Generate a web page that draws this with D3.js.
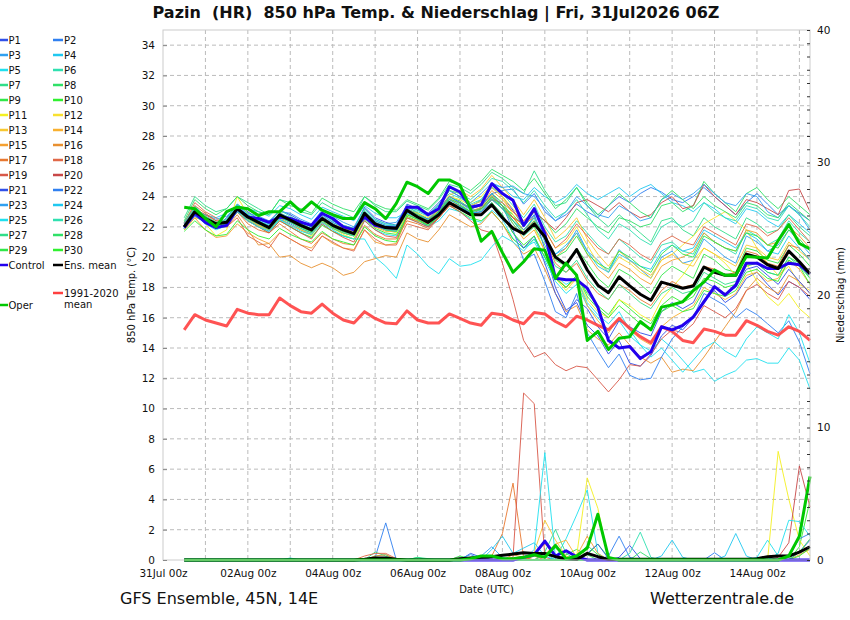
<!DOCTYPE html>
<html>
<head>
<meta charset="utf-8">
<script src="https://cdn.jsdelivr.net/npm/d3@7"></script>
<style>
  body { margin: 0; background: #fff; }
  svg text { font-family: "DejaVu Sans", sans-serif; fill: #111; }
</style>
</head>
<body>
<svg id="chart" width="850" height="620"></svg>
<script>
/// TIME AXIS (hours after 31Jul 00z) ///
const hours = [12,18,24,30,36,42,48,54,60,66, 72,78,84,90,96,102,108,114,120,126,
  132,138,144,150,156,162,168,174,180,186, 192,198,204,210,216,222,228,234,240,246,
  252,258,264,270,276,282,288,294,300,306, 312,318,324,330,336,342,348,354,360,366];
const dateTickHours = [0, 48, 96, 144, 192, 240, 288, 336];
const dateTickLabels = ["31Jul 00z", "02Aug 00z", "04Aug 00z", "06Aug 00z", "08Aug 00z", "10Aug 00z", "12Aug 00z", "14Aug 00z"];
const gridHours = [24,48,72,96,120,144,168,192,216,240,264,288,312,336,360];
const tempTicks = [0,2,4,6,8,10,12,14,16,18,20,22,24,26,28,30,32,34];
const precTicks = [0,1,2,3,4,5,6,7,8,9,10,11,12,13,14,15,16,17,18,19,20,21,22,23,24,25,26,27,28,29,30,31,32,33,34,35,36,37,38,39,40];

/// 850 hPa TEMPERATURE (°C) ///
const tOper = [23.3,23.2,22.55,22.0,23.0,23.3,23.2,22.75,23.0,23.0, 23.65,23.0,23.65,23.1,22.8,22.55,22.55,23.6,23.2,22.55,
  23.55,24.95,24.65,24.2,25.1,25.1,24.75,23.2,21.05,21.7, 20.3,19.0,19.7,20.55,20.45,18.6,19.6,18.8,14.5,15.1,
  13.9,14.65,14.75,15.75,15.2,16.7,16.85,17.05,17.8,18.35, 19.15,18.8,18.8,20.05,20.0,19.95,21.1,22.15,20.9,20.55];
const tControl = [21.95,22.9,22.3,21.95,22.1,23.2,22.65,22.55,22.3,22.65, 22.55,22.3,22.1,22.9,22.55,22.0,21.8,22.65,22.1,21.95,
  21.9,23.3,23.3,22.8,23.2,24.65,24.3,23.3,23.45,24.85, 24.2,23.75,22.1,23.2,21.55,18.6,18.5,18.5,17.95,16.7,
  14.5,14.0,14.1,13.3,13.75,15.4,15.2,15.5,16.05,17.05, 18.05,17.5,18.15,19.6,19.6,19.25,19.25,19.6,19.5,18.9];
const tMean = [22.0,23.0,22.55,22.2,22.3,23.2,22.65,22.3,21.95,22.8, 22.45,22.1,21.8,22.55,22.1,21.8,21.55,22.9,22.2,21.95,
  21.9,23.1,22.65,22.3,22.8,23.6,23.2,22.8,22.8,23.45, 22.6,21.9,21.55,22.2,21.35,20.0,19.5,20.5,19.15,18.15,
  17.65,18.7,18.1,17.55,17.15,18.35,18.15,17.95,18.1,19.35, 19.0,18.8,18.8,20.2,20.0,19.5,19.25,20.4,19.7,18.9];
const tClim = [15.2,16.2,15.85,15.65,15.45,16.55,16.3,16.2,16.2,17.3, 16.8,16.4,16.3,16.9,16.3,15.85,15.65,16.4,15.95,15.65,
  15.6,16.45,15.85,15.65,15.65,16.25,15.95,15.65,15.5,16.3, 16.2,15.85,15.6,16.35,16.25,15.75,15.4,16.1,15.85,15.5,
  15.2,15.95,15.3,14.75,14.35,15.4,15.1,14.5,14.35,15.25, 15.1,14.85,14.85,15.8,15.5,15.1,14.85,15.4,15.1,14.5];

const t01 = [22.1,23.3,22.4,22.0,22.6,23.5,23.0,22.5,22.3,23.1, 22.8,22.4,22.0,23.0,22.4,22.1,21.9,23.3,22.6,22.3, 22.1,23.5,23.2,22.9,23.6,24.4,24.0,23.4,23.7,24.6, 24.0,23.1,22.0,22.8,20.5,18.0,16.5,17.0,15.5,14.8, 13.6,14.5,13.0,12.8,13.5,14.8,15.5,15.2,16.0,17.2, 17.8,17.0,17.5,18.6,19.0,18.2,17.5,18.4,18.0,17.2];
const t02 = [21.9,22.8,22.2,21.9,22.0,23.0,22.4,22.1,21.7,22.5, 22.2,21.8,21.5,22.3,21.9,21.6,21.4,22.6,22.0,21.8, 21.7,22.9,22.5,22.0,22.6,23.5,23.3,22.9,23.3,24.2, 24.4,24.5,23.5,24.2,23.0,22.4,22.8,23.5,23.0,22.6, 23.4,24.0,23.6,24.2,24.6,24.3,23.8,23.6,24.0,24.6, 24.0,23.4,22.8,23.6,24.2,23.5,22.8,23.4,22.9,22.4];
const t03 = [22.2,23.1,22.8,22.5,22.7,23.4,22.9,22.7,22.4,23.0, 22.9,22.5,22.2,23.1,22.7,22.3,22.0,23.2,22.5,22.2, 22.3,23.4,22.9,22.5,23.0,24.0,23.6,23.1,23.2,24.0, 23.2,22.4,21.5,22.8,21.0,20.2,20.6,21.8,20.4,19.8, 19.0,20.5,19.8,19.2,18.6,20.0,20.4,19.6,19.8,21.2, 20.6,20.0,19.6,21.4,21.0,20.4,20.8,21.8,21.0,20.2];
const t04 = [22.0,23.0,22.8,22.6,22.9,23.4,23.2,23.0,22.7,23.4, 23.2,22.8,22.5,23.3,23.0,22.7,22.4,23.4,22.9,22.6, 22.6,23.0,22.7,22.2,23.0,23.8,23.6,23.3,23.8,24.8, 24.6,24.0,23.8,24.6,24.0,23.6,24.0,24.8,24.2,23.8, 24.2,24.6,24.0,24.5,24.8,24.2,23.6,23.4,23.0,23.6, 23.2,22.6,22.2,23.2,23.0,22.4,22.0,22.8,22.2,21.6];
const t05 = [22.3,23.4,22.6,22.1,22.4,23.3,22.6,22.1,21.8,22.5, 22.0,21.6,21.3,22.2,21.7,21.4,21.2,22.4,21.8,21.5, 21.4,22.6,22.3,22.0,22.4,23.2,23.0,22.5,22.3,23.1, 22.5,21.2,20.6,21.0,19.8,18.4,17.6,18.2,16.8,16.0, 15.2,15.8,14.8,14.2,13.8,14.6,14.0,13.2,12.4,12.6, 11.8,12.2,12.5,13.2,13.3,13.0,13.0,14.0,13.2,11.3];
const t06 = [22.0,22.9,22.7,22.3,22.2,23.1,22.8,22.4,22.1,22.9, 22.6,22.2,21.9,22.8,22.3,21.9,21.7,23.1,22.4,22.1, 22.0,23.3,23.0,22.7,23.4,24.2,23.9,23.5,23.8,24.6, 24.2,23.4,22.6,23.5,22.0,21.0,21.4,22.4,21.6,20.8, 20.2,21.2,20.6,20.0,19.6,20.8,21.0,20.4,20.2,21.6, 21.0,20.6,20.2,21.8,21.4,20.8,21.2,22.4,21.6,21.0];
const t07 = [22.6,24.0,23.4,23.0,23.2,24.0,23.6,23.2,22.8,23.8, 23.6,23.0,22.8,23.6,23.2,22.9,22.6,24.0,23.4,23.0, 23.0,23.7,23.4,23.1,23.8,24.8,24.6,24.2,24.8,25.6, 25.2,24.6,24.2,25.7,24.4,23.4,23.6,24.6,23.4,22.6, 22.0,22.8,22.2,21.6,21.0,22.4,22.6,21.8,21.4,22.6, 22.0,21.6,21.2,22.6,22.2,21.6,21.8,22.8,22.0,21.4];
const t08 = [21.9,22.8,22.5,22.1,22.3,23.1,22.6,22.2,21.9,22.7, 22.4,22.0,21.7,22.5,22.0,21.7,21.5,22.8,22.2,21.9, 21.8,23.0,22.6,22.3,22.9,23.6,23.3,22.8,23.0,23.8, 23.4,22.8,22.0,23.0,22.4,21.6,22.2,23.2,22.6,22.0, 21.6,22.6,22.4,22.0,22.2,23.4,23.6,23.0,23.4,25.0, 24.2,23.6,23.0,24.2,24.6,23.8,23.2,24.0,23.4,22.8];
const t09 = [22.1,23.1,22.6,22.2,22.4,23.3,22.7,22.4,22.0,22.8, 22.4,22.0,21.7,22.6,22.1,21.8,21.6,23.0,22.3,22.0, 21.9,23.2,22.9,22.5,23.1,24.0,23.7,23.2,23.4,24.2, 23.6,22.6,21.8,22.6,21.2,19.8,19.4,20.6,19.6,18.6, 18.0,19.2,18.8,18.2,17.6,18.8,19.4,19.0,18.6,20.2, 19.8,19.2,19.0,20.6,20.4,19.8,19.6,20.8,20.2,19.4];
const t10 = [22.2,22.9,22.3,21.9,22.1,23.0,22.4,22.0,21.6,22.4, 22.0,21.6,21.3,22.1,21.7,21.4,21.2,22.5,21.9,21.6, 21.5,22.7,22.4,22.1,22.6,23.4,23.0,22.6,22.4,23.0, 22.2,21.2,20.6,21.2,20.0,18.6,18.0,18.8,17.6,16.8, 16.2,17.2,16.6,16.0,15.6,16.8,17.4,17.0,17.4,18.6, 18.4,18.0,18.2,19.4,19.6,19.0,18.8,20.0,19.6,18.6];
const t11 = [22.0,23.3,22.2,21.4,21.8,24.0,22.8,22.2,21.8,23.0, 22.4,21.8,21.4,22.4,21.9,21.5,21.2,22.6,22.0,21.8, 21.6,22.8,22.6,22.4,23.2,24.4,24.2,23.6,24.0,24.8, 24.0,22.8,21.6,22.0,20.4,18.6,17.8,18.6,17.2,16.4, 16.0,17.2,16.8,16.2,15.8,17.2,18.0,18.8,19.8,20.6, 20.2,19.6,18.8,19.6,18.4,17.4,16.8,17.6,16.6,16.0];
const t12 = [21.8,22.6,22.4,22.0,22.1,23.0,22.5,22.1,21.8,22.6, 22.3,21.9,21.6,22.4,21.9,21.6,21.4,22.7,22.0,21.8, 21.8,23.1,22.9,22.6,23.2,24.0,23.8,23.4,23.7,24.6, 24.0,23.2,22.4,23.0,21.8,20.6,21.0,22.0,20.8,19.6, 19.0,20.0,19.6,19.0,18.6,19.8,20.2,20.8,21.4,22.2, 22.6,23.0,22.4,21.8,20.6,19.6,18.8,19.4,18.2,17.8];
const t13 = [22.1,23.0,22.7,22.3,22.4,23.2,22.7,22.3,21.9,22.8, 22.6,22.1,21.8,22.7,22.2,21.9,21.7,23.0,22.3,22.0, 21.9,23.2,22.8,22.4,23.1,24.1,24.4,24.0,24.5,25.4, 24.6,23.8,22.8,23.8,22.6,21.2,21.8,22.6,21.2,20.2, 19.4,20.4,19.8,19.2,18.8,19.8,20.2,19.6,19.4,20.6, 20.2,19.8,19.4,20.8,20.6,20.0,19.8,21.0,20.4,19.8];
const t14 = [22.2,23.2,22.5,22.1,22.2,23.1,22.6,22.1,21.8,22.6, 22.1,21.8,21.5,22.3,21.9,21.6,21.4,22.6,22.0,21.7, 21.7,22.8,22.5,22.2,22.8,23.6,23.4,23.0,23.3,24.1, 23.4,22.2,21.2,21.8,20.4,18.8,18.0,18.6,16.8,15.8, 15.0,16.0,15.2,14.6,14.2,15.4,16.0,16.4,16.8,18.0, 17.6,17.2,17.6,18.8,19.0,18.4,18.6,19.8,19.2,18.2];
const t15 = [21.8,22.6,21.8,21.3,21.4,22.2,21.6,21.2,20.9,21.6, 21.2,20.8,20.6,21.4,20.9,20.6,20.5,21.8,21.0,20.8, 20.9,22.6,22.4,22.2,22.9,23.8,23.6,23.2,23.4,24.4, 23.8,23.0,22.2,22.6,21.4,20.0,20.6,21.6,20.2,19.2, 18.6,19.6,19.2,18.6,18.2,19.4,19.8,20.0,20.4,21.6, 21.0,20.6,20.4,21.8,21.6,20.8,21.0,22.0,21.4,20.6];
const t16 = [22.0,22.8,22.4,22.0,22.0,22.8,21.8,20.8,20.9,20.0, 20.1,19.6,19.3,19.6,19.3,18.8,19.0,19.7,19.9,20.1, 20.0,21.6,21.2,21.0,21.8,22.8,22.4,22.0,22.2,23.0, 22.2,21.0,20.2,20.6,19.2,17.6,16.4,16.8,15.2,14.6, 14.2,15.0,14.2,13.4,13.0,13.4,12.4,12.6,12.5,13.4, 14.4,15.4,16.4,17.8,18.6,18.0,17.6,18.8,18.4,17.6];
const t17 = [22.3,23.4,22.9,22.4,22.4,23.0,22.2,21.8,21.6,22.2, 21.7,21.2,20.9,21.6,21.2,20.9,20.8,22.1,21.5,21.2, 21.2,22.4,22.2,21.9,22.6,23.6,23.4,23.0,23.2,24.0, 23.4,22.6,21.8,22.4,21.2,19.6,19.0,19.6,18.4,17.6, 17.2,18.2,17.8,17.2,16.8,17.8,18.4,18.0,18.2,19.4, 19.2,18.8,19.0,20.4,20.2,19.6,19.4,20.8,20.6,19.8];
const t18 = [22.2,23.6,23.0,22.6,22.0,22.6,21.4,21.0,20.6,21.6, 21.2,20.8,20.4,21.4,21.0,20.6,20.4,21.8,21.2,20.8, 20.8,22.2,22.0,21.8,22.6,23.4,23.2,22.8,23.0,23.8, 23.6,23.0,22.4,23.0,21.8,20.6,21.2,22.2,21.4,20.6, 20.2,21.2,20.8,20.2,19.8,21.0,21.4,21.0,20.8,22.0, 21.6,21.2,20.8,22.2,22.0,21.4,21.8,22.6,21.8,21.0];
const t19 = [22.1,23.2,22.8,22.4,22.2,23.0,22.4,22.0,21.6,22.4, 22.0,21.6,21.2,22.2,21.7,21.3,21.0,22.4,21.8,21.4, 21.3,22.6,22.3,22.0,22.6,23.4,23.0,22.4,21.8,21.6, 19.6,17.2,14.5,13.4,13.7,12.9,12.5,12.8,12.7,11.9, 11.1,11.9,12.9,12.8,13.6,14.6,15.2,15.0,15.6,16.8, 16.4,16.0,16.6,17.8,18.2,17.6,17.2,18.4,18.0,17.4];
const t20 = [22.0,22.9,22.5,22.1,22.3,23.2,22.6,22.3,22.0,22.7, 22.3,22.0,21.7,22.5,22.0,21.7,21.5,22.8,22.1,21.8, 21.8,23.0,22.6,22.2,22.8,23.5,23.2,22.8,23.2,23.8, 23.2,22.6,22.2,23.0,22.4,21.8,22.6,23.6,23.8,23.4, 23.0,23.6,23.0,22.6,22.8,23.6,24.0,23.2,23.4,24.8, 24.0,23.4,22.8,23.8,23.6,23.2,22.8,24.4,24.5,23.0];
const t21 = [21.9,22.7,22.3,21.9,22.2,23.1,22.6,22.2,22.0,22.8, 22.5,22.1,21.8,22.6,22.1,21.8,21.6,22.9,22.2,21.9, 21.9,23.1,22.7,22.4,23.0,23.8,23.4,22.9,23.0,23.6, 22.8,21.6,20.6,21.4,19.6,17.6,16.2,17.2,16.6,15.4, 14.6,15.8,15.4,15.0,14.8,16.4,17.0,16.6,17.0,18.4, 18.0,17.6,18.0,19.2,19.4,18.8,18.2,19.2,18.4,17.6];
const t22 = [22.2,23.1,22.5,22.0,22.3,23.3,22.8,22.3,22.0,22.9, 22.5,22.1,21.8,22.7,22.2,21.8,21.6,22.9,22.3,22.0, 22.0,23.2,22.8,22.5,23.2,24.0,23.6,23.2,23.4,24.2, 23.4,21.8,19.8,20.2,18.4,16.4,16.0,17.6,15.0,13.8, 12.7,13.6,12.2,11.9,12.0,13.4,14.6,15.4,16.0,17.6, 17.2,16.8,16.0,16.6,16.2,15.6,15.0,15.8,14.4,12.3];
const t23 = [22.0,22.9,22.6,22.2,22.4,23.0,22.7,22.5,22.2,22.9, 22.6,22.3,22.0,22.8,22.3,22.0,21.8,23.0,22.4,22.1, 22.1,23.4,23.1,22.8,23.4,24.4,24.0,23.6,24.2,24.9, 24.6,24.7,24.2,24.0,23.2,22.4,23.0,24.0,23.4,22.8, 22.6,23.4,23.0,22.4,22.6,23.8,24.2,23.8,24.2,24.8, 24.2,23.6,23.4,24.2,24.0,23.0,22.6,23.4,22.8,21.8];
const t24 = [22.1,23.2,22.4,22.0,22.5,23.4,22.8,22.4,22.1,22.7, 22.3,21.9,21.6,22.5,22.0,21.7,21.4,22.7,22.1,21.8, 21.7,22.9,22.5,22.1,22.7,23.6,23.3,22.9,23.0,23.8, 23.2,22.4,21.8,22.6,21.4,20.2,20.8,21.6,20.4,19.4, 19.0,20.2,19.8,19.4,19.2,20.4,20.8,20.4,20.6,21.8, 21.4,21.0,20.6,21.6,21.2,20.4,20.2,21.4,20.6,19.8];
const t25 = [21.9,22.8,22.2,21.8,22.1,23.0,22.4,22.0,21.7,22.5, 22.1,21.7,21.5,22.3,21.8,21.4,21.2,21.2,20.0,19.4, 18.6,20.8,20.2,19.4,18.9,19.9,19.4,19.5,19.8,20.7, 21.4,21.0,20.4,21.2,20.0,18.8,18.2,18.6,17.0,16.2, 15.6,16.4,15.2,14.2,13.4,14.0,13.2,12.4,13.2,14.0, 14.4,13.8,13.4,14.6,15.4,15.0,14.6,16.2,15.0,13.0];
const t26 = [22.3,23.3,22.7,22.3,22.5,23.5,22.9,22.5,22.2,23.1, 22.7,22.3,22.0,22.9,22.4,22.1,21.9,23.2,22.5,22.2, 22.1,23.4,23.1,22.8,23.5,24.4,24.2,23.8,24.4,25.2, 25.0,24.4,23.6,24.4,23.4,22.6,23.0,23.8,22.8,21.8, 21.2,22.2,21.8,21.2,20.8,22.0,22.4,22.0,22.4,23.6, 23.0,22.6,22.4,23.4,23.2,22.6,22.4,23.4,22.8,22.0];
const t27 = [22.0,22.9,22.4,22.0,22.2,23.1,22.5,22.2,21.8,22.6, 22.3,21.9,21.6,22.4,21.9,21.6,21.4,22.7,22.1,21.8, 21.7,23.0,22.7,22.3,22.9,23.8,23.4,23.0,23.1,23.9, 23.2,22.2,21.4,22.0,20.8,19.4,19.0,19.8,18.6,17.8, 17.2,18.2,17.6,17.0,16.6,17.6,18.0,17.6,17.8,19.0, 18.6,18.2,18.4,19.6,19.6,19.0,18.8,20.0,19.4,18.6];
const t28 = [22.4,23.8,23.2,22.8,23.2,24.0,23.4,23.0,22.8,23.8, 23.4,23.2,22.9,23.9,23.5,23.2,23.0,24.0,23.5,23.2, 23.1,23.8,23.5,23.2,23.9,25.0,24.8,24.4,25.0,25.8, 25.4,25.0,24.4,25.2,24.2,23.2,23.8,24.6,23.6,22.8, 23.4,24.2,23.6,23.0,22.6,23.8,24.4,23.8,23.2,24.0, 23.4,23.0,22.6,23.6,23.4,22.8,22.6,23.6,23.0,22.4];
const t29 = [22.1,23.0,22.5,22.1,22.3,23.2,22.6,22.3,21.9,22.7, 22.4,22.0,21.7,22.5,22.0,21.7,21.5,22.8,22.2,21.9, 21.8,23.1,22.8,22.4,23.0,23.9,23.5,23.0,23.2,24.0, 23.4,22.4,21.6,22.4,21.2,20.0,20.4,21.4,20.2,19.6, 19.2,20.4,20.0,19.4,19.0,20.2,20.8,20.2,20.0,21.4, 21.0,20.6,20.4,21.6,21.4,20.8,20.6,21.8,21.2,20.4];
const t30 = [21.7,22.4,21.8,21.4,21.5,22.4,21.8,21.4,21.2,21.9, 21.5,21.2,21.0,21.7,21.2,21.0,20.8,22.0,21.4,21.1, 21.0,22.8,22.5,22.1,22.7,23.6,23.2,22.8,22.8,23.6, 22.8,21.6,20.8,21.4,20.0,18.6,18.0,18.8,17.4,16.6, 16.0,16.8,16.2,15.6,15.2,16.4,16.8,16.4,16.6,17.8, 17.6,17.4,17.8,19.0,19.2,18.6,18.4,19.8,19.4,18.2];

/// PRECIPITATION (mm per 6h) ///
const rOper = [0,0,0,0,0,0,0,0,0,0, 0,0,0,0,0,0,0,0,0,0, 0,0,0,0,0,0,0,.1,.3,.3, .1,.1,.2,.4,.2,1.1,.1,.3,.9,3.45, .2,0,0,0,0,0,0,0,0,0, 0,0,0,0,0,0,0,.3,1.8,6.3];
const rControl = [0,0,0,0,0,0,0,0,0,0, 0,0,0,0,0,0,0,0,0,0, 0,0,0,0,0,0,0,0,0,0, 0,0,.2,.4,1.43,.3,.7,.25,0,0, 0,0,0,0,0,0,0,0,0,0, 0,0,0,0,0,0,0,0,0,0];
const rMean = [0,0,0,0,0,0,0,0,0,0, 0,0,0,0,0,0,0,.05,.15,.15, .05,0,0,0,0,0,.1,.15,.2,.25, .35,.45,.55,.5,.5,.25,.1,.05,.5,.25, .05,.05,.05,.05,.05,.05,.05,.05,.05,.05, .05,.05,.05,.05,.1,.25,.3,.3,.6,1];

const r01 = [0,0,0,0,0,0,0,0,0,0, 0,0,0,0,0,0,0,0,0,0, 0,0,0,0,0,0,0,.5,.2,0, 0,0,0,0,0,0,0,0,0,0, 0,.2,1.1,.1,0,0,0,0,0,0, 0,0,0,0,0,0,0,0,.6,1.5];
const r02 = [0,0,0,0,0,0,0,0,0,0, 0,0,0,0,0,0,0,0,.2,2.8, 0,0,0,0,0,0,0,0,0,0, 0,0,0,0,0,0,0,0,0,0, 0,0,0,0,0,0,0,0,0,0, .55,0,0,0,0,0,0,0,0,0];
const r03 = [0,0,0,0,0,0,0,0,0,0, 0,0,0,0,0,0,0,0,0,0, 0,0,0,0,0,0,.1,.4,.1,0, 0,0,0,0,0,0,0,0,0,0, 0,0,0,0,0,0,0,0,0,0, 0,0,0,0,0,0,0,0,0,0];
const r04 = [0,0,0,0,0,0,0,0,0,0, 0,0,0,0,0,0,0,0,0,0, 0,0,0,0,0,0,0,0,0,0, 0,0,0,0,0,0,0,0,0,0, 0,0,0,0,0,.3,1.5,.2,0,0, 0,0,0,0,0,0,0,0,0,0];
const r05 = [0,0,0,0,0,0,0,0,0,0, .15,0,0,0,0,0,0,0,0,0, 0,0,0,0,0,0,0,0,0,0, 0,0,0,0,0,.1,1.6,3.4,5.3,.5, 0,0,0,0,0,0,0,0,0,0, 0,0,0,0,.2,1.5,.3,0,0,0];
const r06 = [0,0,0,0,0,0,0,0,0,0, 0,0,0,0,0,0,0,0,.3,.4, 0,0,0,0,0,0,0,0,0,0, 0,0,0,.3,.5,0,0,0,0,0, 0,0,0,0,0,0,0,0,0,0, 0,0,0,0,0,0,0,0,0,0];
const r07 = [0,0,0,0,0,0,0,0,0,0, 0,0,0,0,0,0,0,0,.6,.3, 0,0,0,0,0,0,0,0,0,0, 0,0,0,0,.6,2.3,.5,0,0,0, 0,0,0,0,0,0,0,0,0,0, 0,0,0,0,0,0,0,0,0,0];
const r08 = [0,0,0,0,0,0,0,0,0,0, 0,0,0,0,0,0,0,0,0,0, 0,0,.2,0,0,0,0,0,0,0, 0,0,0,0,0,0,0,0,0,0, 0,0,0,.6,.1,0,0,0,0,0, 0,0,0,0,0,0,0,0,0,0];
const r09 = [0,0,0,0,0,0,0,0,0,0, 0,0,0,0,0,0,0,0,0,0, 0,0,0,0,0,0,.3,.1,0,0, 0,0,0,0,0,0,.4,.8,.4,0, 0,0,0,0,0,0,0,0,0,0, 0,0,0,0,0,0,0,0,0,0];
const r10 = [0,0,0,0,0,0,0,0,0,0, 0,0,0,0,0,0,0,0,0,0, 0,0,0,0,0,0,0,0,0,0, 0,0,0,0,0,0,0,0,.4,1.2, .2,0,0,0,0,0,0,0,0,0, 0,0,0,0,0,0,0,0,1,4.5];
const r11 = [0,0,0,0,0,0,0,0,0,0, 0,0,0,0,0,0,0,0,0,0, 0,0,0,0,0,0,0,0,0,0, 0,0,0,0,0,0,0,.3,6.2,3.9, .1,0,0,0,0,0,0,0,0,0, 0,0,0,0,0,0,8.2,4.6,1.5,.3];
const r12 = [0,0,0,0,0,0,0,0,0,0, 0,0,0,0,0,0,0,0,0,0, 0,0,0,0,0,0,0,0,0,0, 0,0,0,.5,1.2,.4,0,0,0,0, 0,0,0,0,0,0,0,0,0,0, 0,0,0,0,0,0,0,0,0,0];
const r13 = [0,0,0,0,0,0,0,0,0,0, 0,0,0,0,0,0,0,0,0,0, 0,0,0,0,0,0,0,0,0,0, 0,0,0,.6,3,1.5,.3,0,0,0, 0,0,0,0,0,0,0,0,0,0, 0,0,0,0,0,0,0,0,0,0];
const r14 = [0,0,0,0,0,0,0,0,0,0, 0,0,0,0,0,0,0,0,0,0, 0,0,0,0,0,0,0,0,0,0, 0,0,0,0,.4,1.2,1.5,.2,0,0, 0,0,0,0,0,0,0,0,0,0, 0,0,0,0,0,0,0,0,0,0];
const r15 = [0,0,0,0,0,0,0,0,0,0, 0,0,0,0,0,0,0,0,0,0, 0,0,0,0,0,0,0,0,0,0, 0,0,0,0,0,0,0,.3,1.8,.5, 0,0,0,0,0,0,0,0,0,0, 0,0,0,0,0,0,0,0,.4,.8];
const r16 = [0,0,0,0,0,0,0,0,0,0, 0,0,0,0,0,0,0,0,.3,.4, 0,0,0,0,0,0,0,0,0,0, 0,.4,.2,0,0,0,0,0,0,0, 0,0,0,0,0,0,0,0,0,0, 0,0,0,0,0,0,0,0,0,0];
const r17 = [0,0,0,0,0,0,0,0,0,0, 0,0,0,0,0,0,0,0,0,0, 0,0,0,0,0,0,0,0,0,.3, 2,5.8,.2,0,0,0,0,0,0,0, 0,0,0,0,0,0,0,0,0,0, 0,0,0,0,0,0,0,0,0,0];
const r18 = [0,0,0,0,0,0,0,0,0,0, 0,0,0,0,0,0,0,.3,.5,.5, .1,0,0,0,0,0,0,0,0,0, 0,0,0,.3,0,0,0,0,0,0, 0,0,0,0,0,0,0,0,0,0, 0,0,0,0,0,0,0,0,0,0];
const r19 = [0,0,0,0,0,0,0,0,0,0, 0,0,0,0,0,0,0,0,0,0, 0,0,0,0,0,0,0,0,0,0, 0,.2,12.6,11.8,.2,0,0,0,0,0, 0,0,0,0,0,0,0,0,0,0, 0,0,0,0,0,0,0,0,0,0];
const r20 = [0,0,0,0,0,0,0,0,0,0, 0,0,0,0,0,0,0,0,0,0, 0,0,0,0,0,0,0,0,0,0, 0,0,0,0,0,0,0,0,0,0, 0,0,0,0,0,0,0,0,0,0, 0,0,0,0,0,0,.2,1.3,7.1,4];
const r21 = [0,0,0,0,0,0,0,0,0,0, 0,0,0,0,0,0,0,0,0,0, 0,0,0,0,0,0,0,0,0,0, 0,0,0,0,0,0,0,0,.5,1.2, .1,0,0,0,0,0,0,0,0,0, 0,0,0,0,0,0,0,0,0,0];
const r22 = [0,0,0,0,0,0,0,0,0,0, 0,0,0,0,0,0,0,0,0,0, 0,0,0,0,0,0,0,0,0,0, 0,0,0,0,0,0,0,0,0,0, .3,1.8,.2,0,0,0,0,0,0,0, 0,0,0,0,0,0,0,.3,1.6,2];
const r23 = [0,0,0,0,0,0,0,0,0,0, 0,0,0,0,0,0,0,0,0,0, 0,0,0,0,0,0,0,0,.3,1, .2,0,0,0,0,0,0,0,0,0, 0,0,0,0,0,0,0,0,0,0, 0,0,0,0,0,0,0,0,0,0];
const r24 = [0,0,0,0,0,0,0,0,0,0, 0,0,0,0,0,0,0,0,0,0, 0,0,0,0,0,0,0,0,0,.8, 1.8,.5,.9,1.3,.3,0,0,0,0,0, 0,0,0,0,0,0,0,0,0,0, 0,.3,2,.3,0,0,0,0,0,0];
const r25 = [0,0,0,0,0,0,0,0,0,0, 0,0,0,0,0,0,0,0,0,0, 0,0,0,0,0,0,0,0,0,0, 0,0,0,.8,8.1,.2,0,0,0,0, 0,0,0,0,0,0,0,0,0,0, 0,0,0,0,0,0,.5,3,2.9,1.8];
const r26 = [0,0,0,0,0,0,0,0,0,0, 0,0,0,0,0,0,0,0,0,0, 0,0,0,0,0,0,0,0,0,0, 0,0,0,0,0,0,0,0,0,0, 0,0,.5,2.1,.2,0,0,0,0,0, 0,0,0,0,0,0,0,0,0,0];
const r27 = [0,0,0,0,0,0,0,0,0,0, 0,0,0,0,0,0,0,0,0,0, 0,0,.2,.1,0,0,0,0,0,0, 0,0,0,0,.4,.9,.2,0,0,0, 0,0,0,0,0,0,0,0,0,0, 0,0,0,0,0,0,0,0,0,0];
const r28 = [0,0,0,0,0,0,0,0,0,0, 0,0,0,0,0,0,0,0,0,0, 0,0,0,0,0,0,0,0,0,0, 0,0,0,0,0,0,0,0,0,0, 0,0,0,0,0,0,0,0,0,0, 0,0,0,0,0,0,0,0,.6,1.6];
const r29 = [0,0,0,0,0,0,0,0,0,0, .1,0,0,0,0,0,0,0,0,0, 0,0,0,0,0,0,0,0,0,0, 0,0,0,0,0,0,0,.2,1.1,.4, 0,0,0,0,0,0,0,0,0,0, 0,0,0,0,0,0,0,0,0,0];
const r30 = [0,0,0,0,0,0,0,0,0,0, 0,0,0,0,0,0,0,0,0,0, 0,0,0,0,0,0,0,.2,.3,0, 0,0,0,0,0,0,0,0,0,0, 0,0,0,0,0,0,0,0,0,0, 0,0,0,0,0,0,0,0,.3,.9];

/// MEMBER NAMES AND COLOURS ///
const memberNames = ["P1","P2","P3","P4","P5","P6","P7","P8","P9","P10","P11","P12","P13","P14","P15",
  "P16","P17","P18","P19","P20","P21","P22","P23","P24","P25","P26","P27","P28","P29","P30"];
const memberPalette = ["#3050e8","#3080f0","#30a0f0","#20c8f0","#20e0ee","#30e0b0","#30de88","#30e068","#30e848","#30f030",
  "#f4f020","#f8e030","#f8c830","#f8b030","#f5a030","#e89030","#e87830","#e06848","#d85848","#c84848"];

const memberTemps = [t01,t02,t03,t04,t05,t06,t07,t08,t09,t10,t11,t12,t13,t14,t15,t16,t17,t18,t19,t20,t21,t22,t23,t24,t25,t26,t27,t28,t29,t30];
const memberPrecs = [r01,r02,r03,r04,r05,r06,r07,r08,r09,r10,r11,r12,r13,r14,r15,r16,r17,r18,r19,r20,r21,r22,r23,r24,r25,r26,r27,r28,r29,r30];

const colControl = "#2200ee";
const colMean = "#000000";
const colClim = "#ff4040";
const colOper = "#00c800";

const margin = { left: 163, right: 40, top: 30, bottom: 60 };
const width = 850 - margin.left - margin.right;   // 647
const height = 620 - margin.top - margin.bottom;  // 530

const svg = d3.select("#chart");

const xScale = d3.scaleLinear().domain([0, 366]).range([margin.left, margin.left + width]);
const yTemp = d3.scaleLinear().domain([0, 35]).range([margin.top + height, margin.top]);
const yPrec = d3.scaleLinear().domain([0, 40]).range([margin.top + height, margin.top]);

const lineTemp = d3.line().x((d, i) => xScale(hours[i])).y((d) => yTemp(d));
const linePrec = d3.line().x((d, i) => xScale(hours[i])).y((d) => yPrec(d));

// plot background + grid
svg.append("rect")
  .attr("x", margin.left).attr("y", margin.top)
  .attr("width", width).attr("height", height)
  .attr("fill", "#fff");

svg.append("g")
  .selectAll("line")
  .data(tempTicks.filter((d) => d > 0))
  .enter()
  .append("line")
  .attr("x1", margin.left).attr("x2", margin.left + width)
  .attr("y1", (d) => yTemp(d)).attr("y2", (d) => yTemp(d))
  .attr("stroke", "#bbb").attr("stroke-dasharray", "4,3");

svg.append("g")
  .selectAll("line")
  .data(gridHours)
  .enter()
  .append("line")
  .attr("x1", (d) => xScale(d)).attr("x2", (d) => xScale(d))
  .attr("y1", margin.top).attr("y2", margin.top + height)
  .attr("stroke", "#bbb").attr("stroke-dasharray", "4,3");

// ensemble members (temperature, then precipitation)
const members = svg.append("g").attr("fill", "none").attr("stroke-width", 1).attr("stroke-opacity", 0.9);

members.selectAll(".temp")
  .data(memberTemps)
  .enter()
  .append("path")
  .attr("class", "temp")
  .attr("d", lineTemp)
  .attr("stroke", (d, i) => memberPalette[i % 20]);

members.selectAll(".prec")
  .data(memberPrecs)
  .enter()
  .append("path")
  .attr("class", "prec")
  .attr("d", linePrec)
  .attr("stroke", (d, i) => memberPalette[i % 20]);

// thick lines
const thick = svg.append("g").attr("fill", "none").attr("stroke-width", 3).attr("stroke-linejoin", "round");
thick.append("path").attr("d", lineTemp(tClim)).attr("stroke", colClim).attr("stroke-opacity", 0.9);
thick.append("path").attr("d", linePrec(rControl)).attr("stroke", colControl);
thick.append("path").attr("d", lineTemp(tControl)).attr("stroke", colControl);
thick.append("path").attr("d", linePrec(rMean)).attr("stroke", colMean);
thick.append("path").attr("d", lineTemp(tMean)).attr("stroke", colMean);
thick.append("path").attr("d", linePrec(rOper)).attr("stroke", colOper);
thick.append("path").attr("d", lineTemp(tOper)).attr("stroke", colOper);

// frame
svg.append("rect")
  .attr("x", margin.left).attr("y", margin.top)
  .attr("width", width).attr("height", height)
  .attr("fill", "none").attr("stroke", "#ccc");

// left axis
const axisL = svg.append("g")
  .attr("transform", `translate(${margin.left},0)`)
  .call(d3.axisLeft(yTemp).tickValues(tempTicks).tickSize(-4).tickPadding(8));
axisL.select(".domain").remove();
axisL.selectAll("line").attr("stroke", "#888");
axisL.selectAll("text").style("font-size", "10.5px").attr("fill", "#111");

// right axis (precipitation)
const axisR = svg.append("g")
  .attr("transform", `translate(${margin.left + width},0)`)
  .call(d3.axisRight(yPrec).tickValues(precTicks).tickSize(-3).tickPadding(7)
    .tickFormat((d) => (d % 10 === 0 ? d : "")));
axisR.select(".domain").remove();
axisR.selectAll("line").attr("stroke", "#333");
axisR.selectAll("text").style("font-size", "10.5px").attr("fill", "#111");

// bottom axis
const axisB = svg.append("g")
  .attr("transform", `translate(0,${margin.top + height})`)
  .call(d3.axisBottom(xScale).tickValues(dateTickHours).tickSize(0).tickPadding(10)
    .tickFormat((d, i) => dateTickLabels[i]));
axisB.select(".domain").remove();
axisB.selectAll("text").style("font-size", "10.5px").attr("fill", "#111");

// axis titles
svg.append("text")
  .attr("transform", `translate(135,${margin.top + height / 2}) rotate(-90)`)
  .attr("text-anchor", "middle").style("font-size", "10px")
  .text("850 hPa Temp. (°C)");

svg.append("text")
  .attr("transform", `translate(844,${margin.top + height / 2}) rotate(-90)`)
  .attr("text-anchor", "middle").style("font-size", "10px")
  .text("Niederschlag (mm)");

svg.append("text")
  .attr("x", margin.left + width / 2).attr("y", 593)
  .attr("text-anchor", "middle").style("font-size", "10px")
  .text("Date (UTC)");

// title and footer
svg.append("text")
  .attr("x", 436).attr("y", 18)
  .attr("text-anchor", "middle").style("font-size", "16px").style("font-weight", "bold")
  .style("white-space", "pre")
  .text("Pazin  (HR)  850 hPa Temp. & Niederschlag | Fri, 31Jul2026 06Z");

svg.append("text")
  .attr("x", 120).attr("y", 604).style("font-size", "16px")
  .text("GFS Ensemble, 45N, 14E");

svg.append("text")
  .attr("x", 650).attr("y", 604).style("font-size", "16px")
  .text("Wetterzentrale.de");

// legend
const legend = svg.append("g").style("font-size", "10px");
const legendItems = memberNames.map((name, i) => ({
  label: [name], color: memberPalette[i % 20],
  col: i % 2, y: 40 + 15 * Math.floor(i / 2),
}));
legendItems.push({ label: ["Control"], color: colControl, col: 0, y: 265 });
legendItems.push({ label: ["Ens. mean"], color: colMean, col: 1, y: 265 });
legendItems.push({ label: ["1991-2020", "mean"], color: colClim, col: 1, y: 293 });
legendItems.push({ label: ["Oper"], color: colOper, col: 0, y: 305 });

const colX = [0, 53];
legendItems.forEach((d) => {
  const x0 = colX[d.col];
  legend.append("line")
    .attr("x1", x0).attr("x2", x0 + (d.col === 0 ? 8 : 10))
    .attr("y1", d.y).attr("y2", d.y)
    .attr("stroke", d.color).attr("stroke-width", 2.5);
  d.label.forEach((t, k) => {
    legend.append("text")
      .attr("x", x0 + (d.col === 0 ? 8.5 : 11))
      .attr("y", d.y + 3.5 + k * 11)
      .text(t);
  });
});
</script>
</body>
</html>
